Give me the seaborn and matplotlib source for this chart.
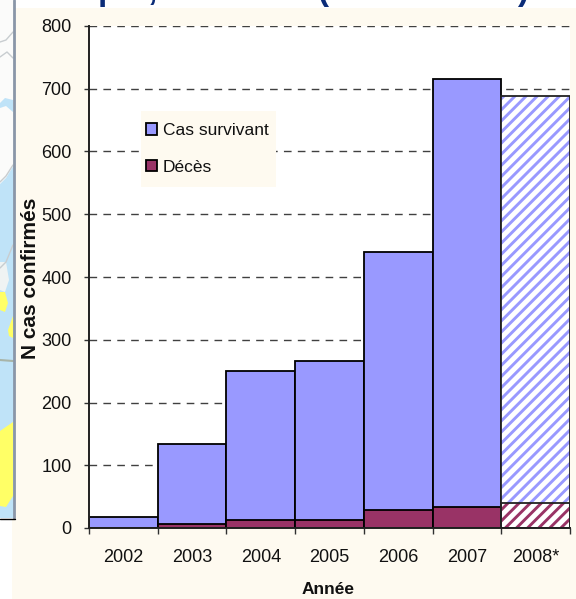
import matplotlib
matplotlib.use("Agg")
import matplotlib.pyplot as plt
from matplotlib.patches import Rectangle
import seaborn as sns

# Confirmed cases per year; 2008 is provisional and drawn hatched
years = ["2002", "2003", "2004", "2005", "2006", "2007", "2008*"]
survivors = [18, 128, 238, 254, 412, 682, 648]
deaths = [0, 6, 12, 12, 28, 34, 40]
y_ticks = [0, 100, 200, 300, 400, 500, 600, 700, 800]
totals = [s + d for s, d in zip(survivors, deaths)]

CREAM = "#FEFAF0"
PERIWINKLE = "#9999FF"
PLUM = "#993366"
NAVY = "#0B2C78"
SKY = "#BFE3F8"
LEMON = "#FFFF66"
W, H = 576, 599
X0, X1, Y0, Y1 = 89, 570, 528, 26

sns.set_theme(style="white")
plt.rcParams["font.family"] = ["Liberation Sans", "DejaVu Sans"]
plt.rcParams["hatch.linewidth"] = 2.1

fig = plt.figure(figsize=(W / 100, H / 100), dpi=100, facecolor="white")

# Backdrop in pixel coordinates: cream panel and the sliver of map on its left
bg = fig.add_axes([0, 0, 1, 1], zorder=0)
bg.set_xlim(0, W)
bg.set_ylim(H, 0)
bg.axis("off")
bg.fill([12, W, W, 12], [8, 8, H, H], color=CREAM, lw=0)
bg.fill([0, 14, 14, 0], [0, 0, 519, 519], color="#FBFBFA", lw=0)
bg.fill([0, 6, 14, 14, 0], [184, 178, 165, 518, 518], color=SKY, lw=0)
bg.fill([0, 5, 13, 13, 6, 0], [103, 98, 100, 112, 106, 108], color=SKY, lw=0)
bg.fill([0, 6, 9, 5, 0], [262, 262, 280, 292, 290], color="#EFF3F3", lw=0)
bg.fill([0, 5, 8, 5, 0], [292, 292, 303, 312, 310], color=LEMON, lw=0)
bg.fill([8, 13, 13, 9], [330, 316, 338, 336], color=LEMON, lw=0)
bg.fill([0, 13, 13, 6, 0], [431, 422, 496, 507, 506], color=LEMON, lw=0)
bg.plot([0, 13], [360, 361], color="#A8B4A8", lw=1.5)
for line_x, line_y in [([0, 6, 13], [42, 40, 32]), ([0, 7, 13], [57, 52, 58]),
                       ([0, 6, 13], [182, 176, 165]), ([0, 6, 13], [268, 262, 245])]:
    bg.plot(line_x, line_y, color="#C8CDD0", lw=1)
bg.plot([13.5, 13.5], [0, 518], color="#8A96A8", lw=2)
bg.plot([0, 15], [519, 519], color="black", lw=1)

# Lower edge of the heading, which runs off the top of the figure
for glyph, gx in [("p", 98), (",", 148), ("(", 317), (")", 517)]:
    bg.text(gx, 0, glyph, color=NAVY, fontsize=24, fontweight="bold",
            ha="left", va="baseline", clip_on=True)

ax = fig.add_axes([X0 / W, (H - Y0) / H, (X1 - X0) / W, (Y0 - Y1) / H], zorder=1)
ax.set_facecolor("white")

edge = dict(edgecolor="black", linewidth=1.3, width=1, saturation=1, zorder=2)
sns.barplot(x=years, y=totals, color=PERIWINKLE, label="Cas survivant", ax=ax, **edge)
sns.barplot(x=years, y=deaths, color=PLUM, label="Décès", ax=ax, **edge)

# The provisional year: white ground, coloured stripes, then a crisp outline
n = len(years)
for bar, stripe in [(ax.patches[n - 1], PERIWINKLE), (ax.patches[2 * n - 1], PLUM)]:
    bar.set_facecolor("white")
    bar.set_edgecolor(stripe)
    bar.set_hatch("///")
    bar.set_linewidth(0)
sns.barplot(x=years[-1:], y=totals[-1:], order=years, color="white",
            edgecolor="#222222", linewidth=1.3, width=1, zorder=3, ax=ax)
sns.barplot(x=years[-1:], y=deaths[-1:], order=years, color="white",
            edgecolor="#222222", linewidth=1.3, width=1, zorder=3, ax=ax)
for bar in ax.patches[2 * n:]:
    bar.set_facecolor("none")

ax.set_xlim(-0.5, n - 0.5)
ax.set_ylim(0, 800)
ax.set_yticks(y_ticks)
ax.set_axisbelow(True)
ax.grid(axis="y", color="#404040", lw=1, linestyle=(0, (5.5, 4.5)), zorder=1)
ax.grid(axis="x", visible=False)
sns.despine(ax=ax, top=True, right=True)
for side in ("left", "bottom"):
    ax.spines[side].set_color("#202020")
    ax.spines[side].set_linewidth(1.4)
    ax.spines[side].set_zorder(5)

ax.set_xticks(range(n), years)
ax.set_xticks([i - 0.5 for i in range(n + 1)], minor=True)
ax.tick_params(axis="x", which="major", length=0, pad=15, labelsize=13, labelcolor="#111111")
ax.tick_params(axis="x", which="minor", length=4.3, width=1, color="#303030", bottom=True)
ax.tick_params(axis="y", length=3.6, width=1, color="#303030", pad=9,
               labelsize=13, labelcolor="#111111", left=True)

fig.text(328 / W, 1 - 590 / H, "Année", fontsize=12.5, fontweight="bold",
         color="#111111", ha="center", va="center")
fig.text(31 / W, 1 - 278 / H, "N cas confirmés", fontsize=15, fontweight="bold",
         color="#111111", rotation=90, ha="center", va="center")
ax.set_xlabel("")
ax.set_ylabel("")

# Legend sits on its own cream plate, which interrupts the gridlines behind it
to_ax_x = lambda px: (px - X0) / (X1 - X0)
to_ax_y = lambda py: (Y0 - py) / (Y0 - Y1)
ax.add_patch(Rectangle((to_ax_x(141), to_ax_y(187)), to_ax_x(276) - to_ax_x(141),
                       to_ax_y(111) - to_ax_y(187), transform=ax.transAxes,
                       facecolor=CREAM, edgecolor="none", zorder=5))
handles, labels = ax.get_legend_handles_labels()
legend = ax.legend(handles, labels, loc="upper left",
                   bbox_to_anchor=(to_ax_x(146), to_ax_y(123)),
                   borderaxespad=0, frameon=False, fontsize=12.5,
                   handlelength=0.62, handleheight=0.62, handletextpad=0.35,
                   labelspacing=1.24, borderpad=0)
legend.set_zorder(6)
for text in legend.get_texts():
    text.set_color("#111111")

fig.savefig("out.png", dpi=100, facecolor="white")
